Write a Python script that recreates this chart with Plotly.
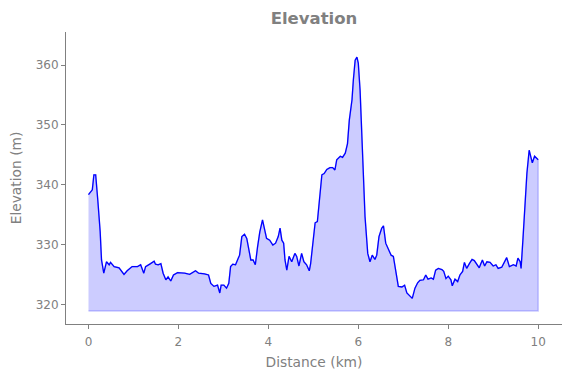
import plotly.graph_objects as go

distance_km = [0.00, 0.085, 0.12, 0.16, 0.21, 0.26, 0.29, 0.34, 0.40, 0.46, 0.49, 0.57, 0.68, 0.79, 0.86, 0.97,
               1.09, 1.16, 1.23, 1.27, 1.38, 1.46, 1.49, 1.55, 1.61, 1.66, 1.72, 1.77, 1.83, 1.89, 1.98,
               2.09, 2.14, 2.25, 2.38, 2.45, 2.58, 2.67, 2.72, 2.79, 2.87, 2.92, 2.95, 3.01, 3.07, 3.12,
               3.16, 3.21, 3.27, 3.33, 3.36, 3.41, 3.47, 3.52, 3.56, 3.61, 3.66, 3.71, 3.76, 3.81, 3.87,
               3.90, 3.96, 4.03, 4.10, 4.16, 4.22, 4.26, 4.30, 4.34, 4.37, 4.41, 4.46, 4.52, 4.59, 4.63,
               4.68, 4.74, 4.79, 4.85, 4.91, 4.94, 5.00, 5.04, 5.09, 5.13, 5.19, 5.24, 5.30, 5.37, 5.43,
               5.48, 5.52, 5.60, 5.65, 5.71, 5.76, 5.80, 5.86, 5.89, 5.93, 5.97, 6.00, 6.04, 6.08, 6.11,
               6.15, 6.21, 6.26, 6.31, 6.37, 6.41, 6.46, 6.52, 6.56, 6.61, 6.67, 6.73, 6.78, 6.82, 6.86,
               6.89, 6.97, 7.03, 7.08, 7.15, 7.20, 7.26, 7.32, 7.37, 7.45, 7.50, 7.55, 7.62, 7.67, 7.72,
               7.78, 7.86, 7.90, 7.95, 8.00, 8.06, 8.09, 8.15, 8.21, 8.26, 8.32, 8.36, 8.41, 8.47, 8.53,
               8.58, 8.64, 8.69, 8.72, 8.76, 8.81, 8.86, 8.93, 9.00, 9.06, 9.11, 9.19, 9.25, 9.30, 9.36,
               9.40, 9.45, 9.51, 9.55, 9.60, 9.62, 9.66, 9.70, 9.75, 9.80, 9.84, 9.87, 9.92, 9.97, 10.00]

elevation_m = [338.4, 339.2, 341.7, 341.7, 337.2, 332.2, 327.5, 325.3, 327.2, 326.7, 327.1, 326.4, 326.2, 325.1, 325.7, 326.4,
               326.4, 326.7, 325.3, 326.4, 326.9, 327.3, 326.8, 326.7, 326.9, 325.3, 324.2, 324.7, 324.0, 325.0, 325.4,
               325.4, 325.3, 325.1, 325.7, 325.3, 325.2, 325.0, 323.6, 323.1, 323.3, 322.0, 323.3, 323.3, 322.8, 323.6,
               326.4, 326.8, 326.7, 327.8, 328.3, 331.4, 331.8, 331.1, 329.2, 327.5, 327.5, 326.7, 329.7, 332.2, 334.2,
               333.3, 331.1, 330.8, 330.0, 330.3, 331.4, 332.8, 330.8, 330.3, 327.5, 325.8, 328.1, 327.2, 328.6, 328.1,
               326.5, 328.6, 327.2, 326.7, 325.7, 326.9, 331.4, 333.7, 333.9, 337.0, 341.7, 341.9, 342.6, 342.9, 342.9,
               342.5, 344.2, 344.8, 344.6, 345.3, 346.9, 350.8, 354.2, 357.5, 360.8, 361.3, 360.3, 355.8, 349.0, 341.4,
               334.7, 328.6, 327.2, 328.3, 327.6, 328.3, 331.4, 332.8, 333.2, 330.3, 329.2, 328.3, 328.1, 326.4, 324.7,
               323.1, 323.0, 323.3, 322.0, 321.4, 321.1, 322.8, 323.7, 324.1, 324.2, 325.0, 324.3, 324.5, 324.3, 325.8,
               326.1, 325.9, 325.6, 324.4, 324.8, 324.2, 323.2, 324.3, 323.9, 325.0, 325.6, 327.1, 326.1, 326.9, 327.6,
               327.4, 326.7, 326.2, 326.8, 327.5, 326.5, 327.2, 327.1, 326.5, 326.7, 326.1, 326.3, 327.2, 327.9, 326.4,
               326.5, 326.7, 326.5, 327.8, 327.2, 326.1, 330.8, 336.4, 342.0, 345.8, 344.7, 343.7, 344.8, 344.3, 344.2]

baseline_m = 319

x_ticks = [0, 2, 4, 6, 8, 10]
y_ticks = [320, 330, 340, 350, 360]

title_text = "Elevation"
x_label = "Distance (km)"
y_label = "Elevation (m)"

GREY = "#808080"
FONT = "DejaVu Sans"

# the page body adds an 8px margin, so the figure is sized to fit the 571x378 window
FIG_W, FIG_H = 563, 370

fig = go.Figure()

# shaded area between baseline and profile
fig.add_trace(go.Scatter(
    x=distance_km + distance_km[::-1],
    y=elevation_m + [baseline_m] * len(distance_km),
    fill="toself",
    fillcolor="rgba(0,0,255,0.2)",
    line=dict(color="rgba(0,0,255,0.2)", width=1.5),
    mode="lines",
    hoverinfo="skip",
    showlegend=False,
))

fig.add_trace(go.Scatter(
    x=distance_km, y=elevation_m,
    mode="lines",
    line=dict(color="blue", width=1.3),
    showlegend=False,
))

axis_common = dict(
    showgrid=False, zeroline=False,
    showline=True, linecolor=GREY, linewidth=1,
    ticks="outside", ticklen=4, tickwidth=1, tickcolor=GREY,
    tickfont=dict(family=FONT, size=12, color=GREY),
    mirror=False, automargin=False,
)

fig.update_layout(
    width=FIG_W, height=FIG_H,
    margin=dict(l=58, r=9, t=24, b=54),
    paper_bgcolor="white", plot_bgcolor="white",
    title=dict(text="<b>" + title_text + "</b>", x=306 / FIG_W, xanchor="center",
               y=1 - 4 / FIG_H, yanchor="top",
               font=dict(family=FONT, size=16.5, color=GREY)),
    xaxis=dict(range=[-0.5, 10.53], tickvals=x_ticks, ticklabelstandoff=3,
               title=dict(text=x_label, font=dict(family=FONT, size=13.8, color=GREY), standoff=8),
               **axis_common),
    yaxis=dict(range=[316.83, 365.5], tickvals=y_ticks,
               title=dict(text=y_label, font=dict(family=FONT, size=13.8, color=GREY), standoff=10),
               **axis_common),
)

fig.write_html("out.html")
